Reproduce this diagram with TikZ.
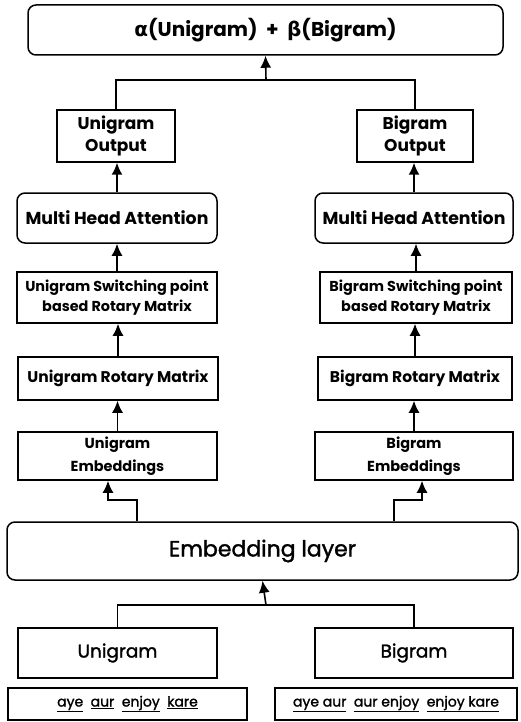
\documentclass[tikz,border=0pt]{standalone}
\usepackage{fontspec}
\setmainfont{Poppins}
\newfontfamily\medfont[FakeBold=1.5]{Poppins}
\newfontfamily\greekfont{DejaVu Sans}
\usetikzlibrary{arrows.meta}

\begin{document}
\begin{tikzpicture}[x=1pt,y=-1pt,
  box/.style={draw, line width=1.5pt, inner sep=0pt, align=center,
    font=\bfseries\fontsize{17}{22}\selectfont},
  rbox/.style={box, rounded corners=8pt},
  arr/.style={-{Latex[length=12pt,width=11pt]}, line width=1.6pt},
  wire/.style={line width=1.6pt}]
\useasboundingbox (0,0) rectangle (520,722);

% combined output
\node[rbox, minimum width=475pt, minimum height=50pt, font=\bfseries\fontsize{20}{24}\selectfont]
  (top) at (265.5,30) {{\greekfont\bfseries α}(Unigram)\ \ +\ \ {\greekfont\bfseries β}(Bigram)};

% output boxes
\node[box, minimum width=118pt, minimum height=52pt] (outL) at (116,136) {Unigram\\Output};
\node[box, minimum width=116pt, minimum height=52pt] (outR) at (415,136) {Bigram\\Output};

% attention
\node[rbox, minimum width=200pt, minimum height=50pt, font=\bfseries\fontsize{17.3}{20}\selectfont] (mhaL) at (117,218) {Multi Head Attention};
\node[rbox, minimum width=198pt, minimum height=50pt, font=\bfseries\fontsize{17.3}{20}\selectfont] (mhaR) at (414,218) {Multi Head Attention};

% switching point rotary matrices
\node[box, minimum width=200pt, minimum height=51pt, font=\bfseries\fontsize{14.4}{20}\selectfont] (swL) at (117,297.5) {Unigram Switching point\\based Rotary Matrix};
\node[box, minimum width=192pt, minimum height=51pt, font=\bfseries\fontsize{14.4}{20}\selectfont] (swR) at (416,297.5) {Bigram Switching point\\based Rotary Matrix};

% rotary matrices
\node[box, minimum width=200pt, minimum height=43pt, font=\bfseries\fontsize{15.5}{18}\selectfont] (rotL) at (118,378.5) {Unigram Rotary Matrix};
\node[box, minimum width=194pt, minimum height=43pt, font=\bfseries\fontsize{15.5}{18}\selectfont] (rotR) at (415,378.5) {Bigram Rotary Matrix};

% embeddings
\node[box, minimum width=199pt, minimum height=48pt, font=\bfseries\fontsize{14.5}{23}\selectfont] (embL) at (117.5,456) {Unigram\\Embeddings};
\node[box, minimum width=198pt, minimum height=48pt, font=\bfseries\fontsize{14.5}{23}\selectfont] (embR) at (414,456) {Bigram\\Embeddings};

% embedding layer
\node[rbox, minimum width=511pt, minimum height=58pt, font=\medfont\fontsize{22}{26}\selectfont] (layer) at (262.5,551) {Embedding layer};

% inputs
\node[box, minimum width=199pt, minimum height=50pt, font=\medfont\fontsize{18.5}{22}\selectfont] (uni) at (117.5,653) {Unigram};
\node[box, minimum width=198pt, minimum height=50pt, font=\medfont\fontsize{18.5}{22}\selectfont] (bi) at (414,653) {Bigram};

% token sequences
\node[box, minimum width=239pt, minimum height=32pt, font=\medfont\fontsize{14}{16}\selectfont] (wL) at (127.5,704)
  {\underline{aye}\ \ \underline{aur}\ \ \underline{enjoy}\ \ \underline{kare}};
\node[box, minimum width=242pt, minimum height=32pt, font=\medfont\fontsize{14}{16}\selectfont] (wR) at (396,704)
  {\underline{aye aur}\ \ \underline{aur enjoy}\ \ \underline{enjoy kare}};

% top merge
\coordinate (jt) at (266,80);
\draw[wire] (outL.north) |- (jt) -| (outR.north);
\draw[arr] (jt) -- (top.south);

% column arrows
\foreach \a/\b in {mhaL/outL, swL/mhaL, rotL/swL, embL/rotL, mhaR/outR, swR/mhaR, rotR/swR, embR/rotR}
  \draw[arr] (\a.north) -- (\a.north |- \b.south);

% embedding layer to embeddings (elbows)
\coordinate (eL) at (137,500);
\coordinate (eLt) at (108,500);
\coordinate (eR) at (394,500);
\coordinate (eRt) at (422,500);
\draw[arr] (layer.north -| eL) -- (eL) -- (eLt) -- (eLt |- embL.south);
\draw[arr] (layer.north -| eR) -- (eR) -- (eRt) -- (eRt |- embR.south);

% bottom merge
\coordinate (jb) at (266,605);
\draw[wire] (uni.north) |- (jb) -| (bi.north);
\draw[arr] (jb) -- (layer.south);
\end{tikzpicture}
\end{document}
